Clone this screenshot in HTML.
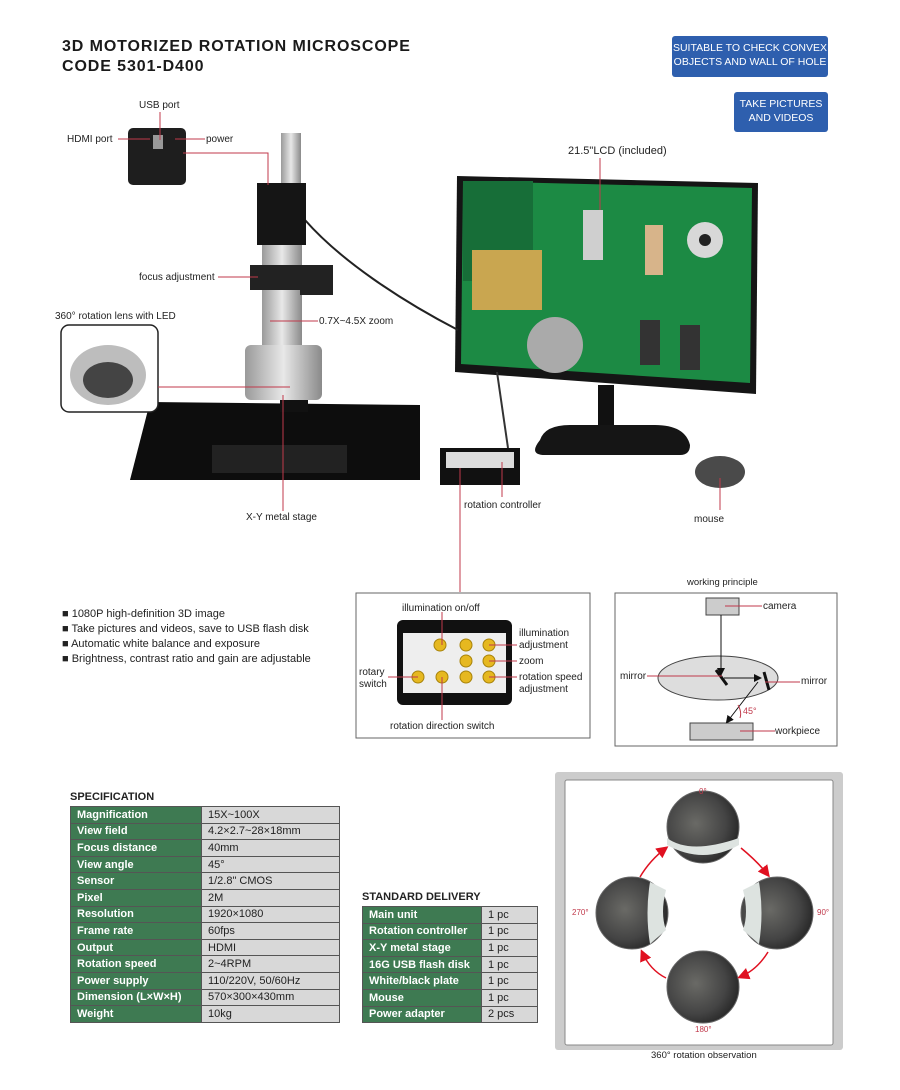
<!DOCTYPE html>
<html><head><meta charset="utf-8"><style>
body{margin:0;background:#fff;font-family:"Liberation Sans",Arial,sans-serif;}
#w{position:relative;width:900px;height:1090px;overflow:hidden;background:#fff}
.t{position:absolute;font-size:10px;color:#222;white-space:nowrap}
table{border-collapse:collapse;position:absolute;font-size:11px}
td{height:15.6px;padding:0 0 0 6px;border:1px solid #555}
td.l{background:#3e7a52;color:#fff;font-weight:bold}
td.v{background:#d8d8d8;color:#222}
</style></head><body><div id="w">
<div class="t" style="left:62px;top:37px;font-size:16px;letter-spacing:0.9px;font-weight:bold;color:#1a1a1a;line-height:20px">3D MOTORIZED ROTATION MICROSCOPE<br>CODE 5301-D400</div>
<div class="t" style="left:672px;top:36px;width:156px;height:41px;background:#2e5fae;color:#fff;font-size:10.5px;text-align:center;line-height:14px;padding-top:5px;box-sizing:border-box;border-radius:3px">SUITABLE TO CHECK CONVEX<br>OBJECTS AND WALL OF HOLE</div>
<div class="t" style="left:734px;top:92px;width:94px;height:40px;background:#2e5fae;color:#fff;font-size:10.5px;text-align:center;line-height:14px;padding-top:5px;box-sizing:border-box;border-radius:3px">TAKE PICTURES<br>AND VIDEOS</div>

<svg width="900" height="1090" style="position:absolute;left:0;top:0">
<defs>
<linearGradient id="sil" x1="0" x2="1"><stop offset="0" stop-color="#9a9a9a"/><stop offset="0.5" stop-color="#e8e8e8"/><stop offset="1" stop-color="#8a8a8a"/></linearGradient>
<radialGradient id="ph" cx="0.4" cy="0.45" r="0.6"><stop offset="0" stop-color="#6a6a66"/><stop offset="0.7" stop-color="#444"/><stop offset="1" stop-color="#2a2a2a"/></radialGradient>
<marker id="ar" markerWidth="8" markerHeight="8" refX="6" refY="4" orient="auto"><path d="M0 0L8 4L0 8z" fill="#e01020"/></marker>
<marker id="ab" markerWidth="8" markerHeight="8" refX="6" refY="4" orient="auto"><path d="M0 0L8 4L0 8z" fill="#111"/></marker>
</defs>
<!-- camera back -->
<rect x="128" y="128" width="58" height="57" rx="5" fill="#1e1e1e"/>
<rect x="153" y="135" width="10" height="14" fill="#999"/>
<!-- monitor -->
<polygon points="457,176 758,183 756,394 455,372" fill="#151515"/>
<polygon points="463,181 752,188 750,383 461,364" fill="#1c8a44"/>
<rect x="463" y="181" width="70" height="100" fill="#176e38"/>
<rect x="472" y="250" width="70" height="60" fill="#c9a650"/>
<rect x="583" y="210" width="20" height="50" fill="#cfcfcf"/>
<rect x="645" y="225" width="18" height="50" fill="#d7b48a"/>
<circle cx="705" cy="240" r="18" fill="#d8d8d8"/><circle cx="705" cy="240" r="6" fill="#222"/>
<circle cx="555" cy="345" r="28" fill="#aaa"/>
<rect x="640" y="320" width="20" height="45" fill="#333"/>
<rect x="680" y="325" width="20" height="45" fill="#333"/>
<rect x="598" y="385" width="16" height="45" fill="#111"/>
<path d="M540 440 Q545 425 570 425 H655 Q685 425 690 445 Q690 455 680 455 H545 Q528 455 540 440Z" fill="#151515"/>
<!-- cable -->
<path d="M305 220 C340 260 400 300 458 330" stroke="#222" stroke-width="2" fill="none"/>
<path d="M497 372 L508 448" stroke="#333" stroke-width="2" fill="none"/>
<!-- microscope -->
<polygon points="150,402 420,405 420,480 130,480" fill="#0d0d0d"/>
<rect x="212" y="445" width="135" height="28" fill="#222"/>
<rect x="280" y="392" width="28" height="20" fill="#111"/>
<rect x="281" y="133" width="20" height="60" fill="url(#sil)"/>
<rect x="257" y="183" width="49" height="62" fill="#151515"/>
<rect x="262" y="245" width="40" height="110" fill="url(#sil)"/>
<rect x="250" y="265" width="65" height="25" fill="#222"/>
<rect x="300" y="265" width="33" height="30" fill="#222"/>
<rect x="245" y="345" width="77" height="55" rx="6" fill="url(#sil)"/>
<!-- inset lens -->
<rect x="61" y="325" width="97" height="87" rx="8" fill="#fff" stroke="#222" stroke-width="1.5"/>
<ellipse cx="108" cy="375" rx="38" ry="30" fill="#bdbdbd"/>
<ellipse cx="108" cy="380" rx="25" ry="18" fill="#444"/>
<!-- controller box & mouse -->
<rect x="440" y="448" width="80" height="37" fill="#111"/>
<rect x="446" y="452" width="68" height="16" fill="#ddd"/>
<ellipse cx="720" cy="472" rx="25" ry="16" fill="#4a4a4a"/>
<!-- red leader lines -->
<g stroke="#c0394b" stroke-width="1" fill="none">
<path d="M118 139H150M160 112V140M175 139H205M183 153H268L268 185"/>
<path d="M600 158V210M218 277H258M270 321H318M158 387H290M283 395V511M460 468V592M502 462V497M720 478V510"/>
</g>
<!-- controller panel -->
<rect x="356" y="593" width="234" height="145" fill="#fff" stroke="#666"/>
<rect x="397" y="620" width="115" height="85" rx="6" fill="#111"/>
<rect x="403" y="633" width="103" height="60" fill="#eee"/>
<g fill="#e6b820" stroke="#a8830a"><circle cx="440" cy="645" r="6"/><circle cx="466" cy="645" r="6"/><circle cx="489" cy="645" r="6"/><circle cx="466" cy="661" r="6"/><circle cx="489" cy="661" r="6"/><circle cx="418" cy="677" r="6"/><circle cx="442" cy="677" r="6"/><circle cx="466" cy="677" r="6"/><circle cx="489" cy="677" r="6"/></g>
<g stroke="#c0394b" stroke-width="1"><path d="M442 612V645M489 645H517M489 661H517M489 677H517M418 677H388M442 677V720"/></g>
<!-- principle -->
<rect x="615" y="593" width="222" height="153" fill="#fff" stroke="#666"/>
<rect x="706" y="598" width="33" height="17" fill="#ccc" stroke="#444"/>
<ellipse cx="718" cy="678" rx="60" ry="22" fill="#ddd" stroke="#444"/>
<rect x="690" y="723" width="63" height="17" fill="#ccc" stroke="#444"/>
<g stroke="#111" stroke-width="1" fill="none"><path d="M721 615V674" marker-end="url(#ab)"/><path d="M724 678H760" marker-end="url(#ab)"/><path d="M758 682L727 722" marker-end="url(#ab)"/></g>
<g stroke="#111" stroke-width="3"><path d="M716 670L727 685M764 672L769 690"/></g>
<g stroke="#c0394b" stroke-width="1" fill="none"><path d="M725 606H762M647 676H722M765 682H800M740 731H775M738 705Q742 712 740 718"/></g>
<!-- photo panel -->
<rect x="555" y="772" width="288" height="278" rx="3" fill="#ccc"/>
<rect x="565" y="780" width="268" height="265" rx="2" fill="#fff" stroke="#888"/>
<g stroke="#666" stroke-width="1">
<circle cx="703" cy="827" r="36" fill="url(#ph)"/><circle cx="632" cy="913" r="36" fill="url(#ph)"/><circle cx="777" cy="913" r="36" fill="url(#ph)"/><circle cx="703" cy="987" r="36" fill="url(#ph)"/></g>
<path d="M667 838 Q690 855 739 838 L739 845 Q703 865 667 845Z" fill="#dde3e0"/>
<path d="M650 882 Q645 913 650 944 L666 930 Q660 913 666 890Z" fill="#dde3e0"/>
<path d="M759 882 Q764 913 759 944 L743 930 Q749 913 743 890Z" fill="#dde3e0"/>
<g stroke="#e01020" stroke-width="1.5" fill="none">
<path d="M640 877Q650 860 666 848" marker-end="url(#ar)"/>
<path d="M741 848Q758 862 768 875" marker-end="url(#ar)"/>
<path d="M768 952Q757 970 740 977" marker-end="url(#ar)"/>
<path d="M666 978Q650 970 642 952" marker-end="url(#ar)"/>
</g>
</svg>

<div class="t" style="left:139px;top:100px">USB port</div>
<div class="t" style="left:67px;top:134px">HDMI port</div>
<div class="t" style="left:206px;top:134px">power</div>
<div class="t" style="left:568px;top:145px;font-size:11px">21.5"LCD (included)</div>
<div class="t" style="left:139px;top:272px">focus adjustment</div>
<div class="t" style="left:55px;top:311px">360° rotation lens with LED</div>
<div class="t" style="left:319px;top:316px">0.7X~4.5X zoom</div>
<div class="t" style="left:246px;top:512px">X-Y metal stage</div>
<div class="t" style="left:464px;top:500px">rotation controller</div>
<div class="t" style="left:694px;top:514px">mouse</div>
<div class="t" style="left:62px;top:607px;font-size:11px;line-height:15px">■ 1080P high-definition 3D image<br>■ Take pictures and videos, save to USB flash disk<br>■ Automatic white balance and exposure<br>■ Brightness, contrast ratio and gain are adjustable</div>
<div class="t" style="left:402px;top:603px">illumination on/off</div>
<div class="t" style="left:519px;top:628px;line-height:12px">illumination<br>adjustment</div>
<div class="t" style="left:519px;top:656px">zoom</div>
<div class="t" style="left:519px;top:672px;line-height:12px">rotation speed<br>adjustment</div>
<div class="t" style="left:359px;top:667px;line-height:12px">rotary<br>switch</div>
<div class="t" style="left:390px;top:721px">rotation direction switch</div>
<div class="t" style="left:687px;top:577px;font-size:9.5px">working principle</div>
<div class="t" style="left:763px;top:601px">camera</div>
<div class="t" style="left:620px;top:671px">mirror</div>
<div class="t" style="left:801px;top:676px">mirror</div>
<div class="t" style="left:775px;top:726px">workpiece</div>
<div class="t" style="left:743px;top:706px;color:#c0394b;font-size:9px">45°</div>
<div class="t" style="left:70px;top:791px;font-size:11px;font-weight:bold">SPECIFICATION</div>
<table style="left:70px;top:806px;width:270px">
<tr><td class="l" style="width:124px">Magnification</td><td class="v">15X~100X</td></tr>
<tr><td class="l">View field</td><td class="v">4.2×2.7~28×18mm</td></tr>
<tr><td class="l">Focus distance</td><td class="v">40mm</td></tr>
<tr><td class="l">View angle</td><td class="v">45°</td></tr>
<tr><td class="l">Sensor</td><td class="v">1/2.8" CMOS</td></tr>
<tr><td class="l">Pixel</td><td class="v">2M</td></tr>
<tr><td class="l">Resolution</td><td class="v">1920×1080</td></tr>
<tr><td class="l">Frame rate</td><td class="v">60fps</td></tr>
<tr><td class="l">Output</td><td class="v">HDMI</td></tr>
<tr><td class="l">Rotation speed</td><td class="v">2~4RPM</td></tr>
<tr><td class="l">Power supply</td><td class="v">110/220V, 50/60Hz</td></tr>
<tr><td class="l">Dimension (L×W×H)</td><td class="v">570×300×430mm</td></tr>
<tr><td class="l">Weight</td><td class="v">10kg</td></tr>
</table>
<div class="t" style="left:362px;top:891px;font-size:11px;font-weight:bold">STANDARD DELIVERY</div>
<table style="left:362px;top:906px;width:176px">
<tr><td class="l" style="width:112px">Main unit</td><td class="v">1 pc</td></tr>
<tr><td class="l">Rotation controller</td><td class="v">1 pc</td></tr>
<tr><td class="l">X-Y metal stage</td><td class="v">1 pc</td></tr>
<tr><td class="l">16G USB flash disk</td><td class="v">1 pc</td></tr>
<tr><td class="l">White/black plate</td><td class="v">1 pc</td></tr>
<tr><td class="l">Mouse</td><td class="v">1 pc</td></tr>
<tr><td class="l">Power adapter</td><td class="v">2 pcs</td></tr>
</table>
<div class="t" style="left:699px;top:787px;color:#c0394b;font-size:8px">0°</div>
<div class="t" style="left:817px;top:908px;color:#c0394b;font-size:8px">90°</div>
<div class="t" style="left:695px;top:1025px;color:#c0394b;font-size:8px">180°</div>
<div class="t" style="left:572px;top:908px;color:#c0394b;font-size:8px">270°</div>
<div class="t" style="left:651px;top:1050px;font-size:9.5px">360° rotation observation</div>
</div></body></html>
